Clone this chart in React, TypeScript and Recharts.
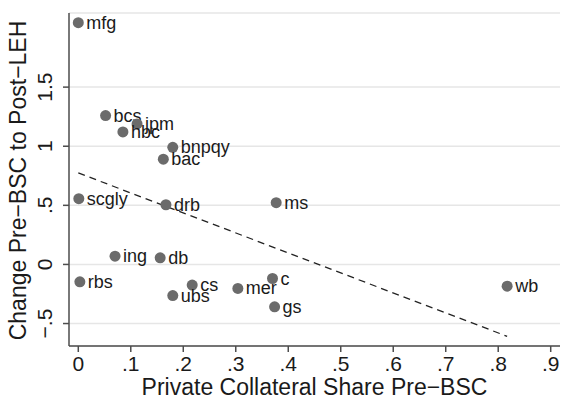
import React from 'react';
import { ScatterChart, Scatter, XAxis, YAxis, CartesianGrid, ReferenceLine } from 'recharts';

// Bank tickers with their private collateral share and change in level
const banks = ['mfg', 'bcs', 'jpm', 'hbc', 'bnpqy', 'bac', 'scgly', 'drb', 'ms', 'ing', 'db', 'rbs', 'cs', 'ubs', 'mer', 'c', 'gs', 'wb'];
const collateralShare = [0, 0.052, 0.112, 0.085, 0.18, 0.162, 0.001, 0.167, 0.377, 0.07, 0.156, 0.003, 0.217, 0.18, 0.304, 0.37, 0.374, 0.817];
const changePreToPost = [2.045, 1.259, 1.189, 1.121, 0.991, 0.89, 0.556, 0.505, 0.522, 0.07, 0.056, -0.147, -0.175, -0.263, -0.203, -0.119, -0.359, -0.184];

// Linear fit endpoints (min and max of x)
const fitX = [0, 0.817];
const fitY = [0.774, -0.608];

const xTicks = [0, 0.1, 0.2, 0.3, 0.4, 0.5, 0.6, 0.7, 0.8, 0.9];
const yTicks = [-0.5, 0, 0.5, 1, 1.5];

const xTitle = 'Private Collateral Share Pre\u2212BSC';
const yTitle = 'Change Pre\u2212BSC to Post\u2212LEH';

const points = banks.map((name, i) => ({ name, x: collateralShare[i], y: changePreToPost[i] }));

const FONT = '"Liberation Sans", Arial, Helvetica, sans-serif';
const AXIS_COLOR = '#4d4d4d';
const TEXT_COLOR = '#1a1a1a';

const fmt = (v: number) => {
  if (v === 0) return '0';
  const s = String(Math.abs(v)).replace(/^0/, '');
  return v < 0 ? '\u2212' + s : s;
};

const Marker = (props: any) => {
  const { cx, cy, payload } = props;
  if (cx == null || cy == null) return null;
  return (
    <g>
      <circle cx={cx} cy={cy} r={5.5} fill="#6b6b6b" />
      <text x={cx + 8} y={cy + 6} fontSize={18} fontFamily={FONT} fill={TEXT_COLOR}>
        {payload.name}
      </text>
    </g>
  );
};

const YTick = (props: any) => {
  const { x, y, payload } = props;
  return (
    <text
      x={0}
      y={0}
      transform={`translate(${x - 9},${y}) rotate(-90)`}
      textAnchor="middle"
      fontSize={21}
      fontFamily={FONT}
      fill={TEXT_COLOR}
    >
      {fmt(payload.value)}
    </text>
  );
};

const XTick = (props: any) => {
  const { x, y, payload } = props;
  return (
    <text x={x} y={y + 17} textAnchor="middle" fontSize={21} fontFamily={FONT} fill={TEXT_COLOR}>
      {fmt(payload.value)}
    </text>
  );
};

const XTitle = (props: any) => {
  const vb = props.viewBox || {};
  return (
    <text x={vb.x + vb.width / 2} y={395} textAnchor="middle" fontSize={23} fontFamily={FONT} fill={TEXT_COLOR}>
      {xTitle}
    </text>
  );
};

const YTitle = (props: any) => {
  const vb = props.viewBox || {};
  return (
    <text
      x={0}
      y={0}
      transform={`translate(26,${vb.y + vb.height / 2 + 1}) rotate(-90)`}
      textAnchor="middle"
      fontSize={23}
      fontFamily={FONT}
      fill={TEXT_COLOR}
    >
      {yTitle}
    </text>
  );
};

export default function App() {
  return (
    <div style={{ position: 'absolute', left: 0, top: 0, background: '#fff' }}>
      <ScatterChart width={562} height={399} margin={{ top: 13, right: 2, bottom: 0, left: 0 }}>
        <CartesianGrid vertical={false} stroke="#e6e6e6" strokeWidth={1.5} />
        <XAxis
          type="number"
          dataKey="x"
          domain={[-0.0177, 0.9177]}
          ticks={xTicks}
          allowDataOverflow
          height={53}
          stroke={AXIS_COLOR}
          strokeWidth={1.5}
          tickSize={6}
          tick={<XTick />}
          label={<XTitle />}
        />
        <YAxis
          type="number"
          dataKey="y"
          domain={[-0.69, 2.127]}
          ticks={yTicks}
          allowDataOverflow
          width={69}
          stroke={AXIS_COLOR}
          strokeWidth={1.5}
          tickSize={6}
          tick={<YTick />}
          label={<YTitle />}
        />
        <ReferenceLine
          segment={[
            { x: fitX[0], y: fitY[0] },
            { x: fitX[1], y: fitY[1] },
          ]}
          stroke="#222"
          strokeWidth={1.3}
          strokeDasharray="7 5"
          ifOverflow="visible"
        />
        <Scatter data={points} shape={<Marker />} isAnimationActive={false} />
      </ScatterChart>
    </div>
  );
}
